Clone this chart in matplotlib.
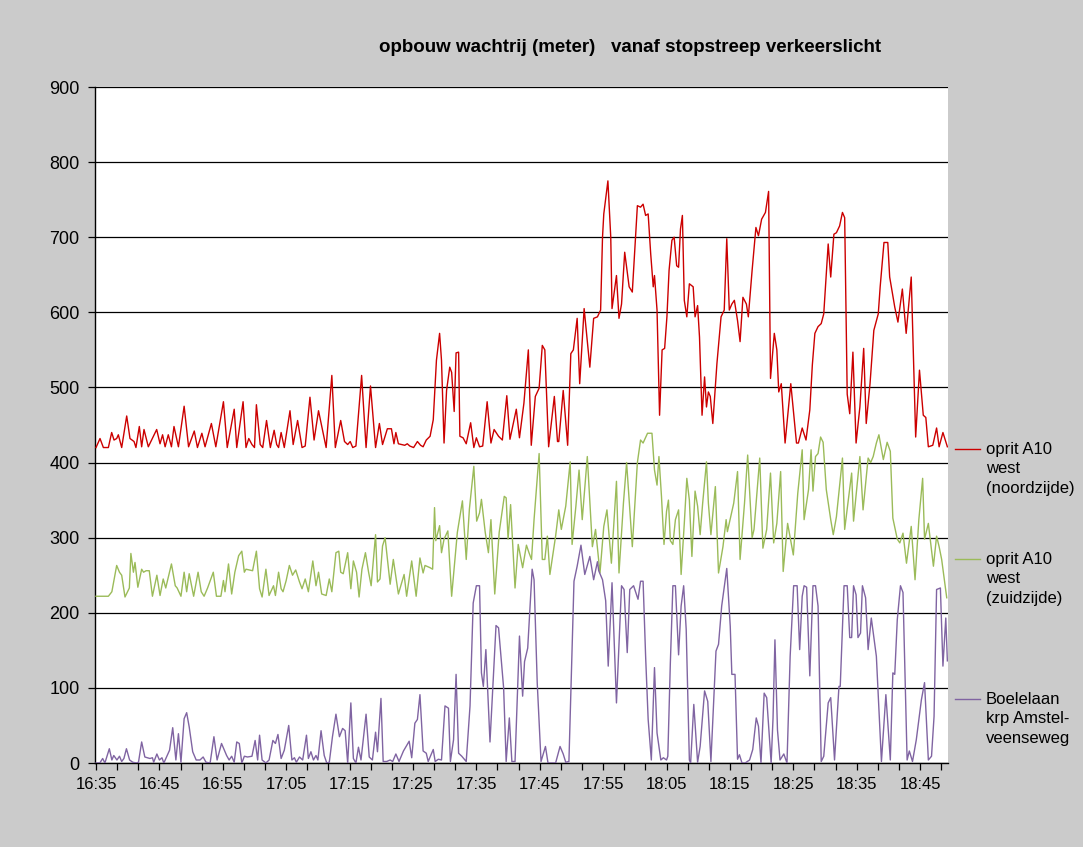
import matplotlib
matplotlib.use('Agg')
import matplotlib.pyplot as plt
from matplotlib.lines import Line2D
from matplotlib.ticker import MultipleLocator

plt.rcParams['font.family'] = ['Liberation Sans', 'DejaVu Sans']

title = "opbouw wachtrij (meter)   vanaf stopstreep verkeerslicht"
tick_labels = ["16:35", "16:45", "16:55", "17:05", "17:15", "17:25", "17:35",
               "17:45", "17:55", "18:05", "18:15", "18:25", "18:35", "18:45"]
series_names = ["oprit A10\nwest\n(noordzijde)",
                "oprit A10\nwest\n(zuidzijde)",
                "Boelelaan\nkrp Amstel-\nveenseweg"]

# time in minutes after 16:35, value in meters
red_t = [0, 0.63, 1.16, 1.95, 2.47, 2.84, 3.26, 3.52, 4.05, 4.84, 5.36, 6.0, 6.3, 6.83, 7.2, 7.57, 8.25, 9.57,
         10.1, 10.5, 10.9, 11.4, 11.9, 12.3, 13.0, 13.9, 14.6, 15.5, 16.0, 16.7, 17.2, 18.2, 18.9, 20.1, 20.7,
         21.8, 22.2, 23.2, 23.66, 24.1, 24.6, 25.0, 25.3, 25.9, 26.3, 26.9, 27.5, 28.1, 28.5, 28.8, 29.2, 29.7,
         30.6, 31.1, 31.8, 32.5, 33.0, 33.75, 34.4, 35.1, 36.3, 37.2, 37.75, 38.6, 39.2, 39.7, 40.1, 40.5, 41.0,
         41.9, 42.6, 43.3, 44.1, 44.7, 45.2, 45.96, 46.6, 47.0, 47.3, 47.7, 48.2, 48.7, 49.1, 49.5, 50.1, 50.7,
         51.2, 51.6, 52.1, 52.7, 53.2, 53.7, 54.2, 54.5, 54.9, 55.3, 55.8, 56.1, 56.5, 56.8, 57.2, 57.4, 57.9,
         58.4, 59.1, 59.6, 60.0, 60.5, 61.0, 61.7, 62.3, 62.8, 63.5, 64.1, 64.8, 65.3, 66.3, 66.8, 67.5, 68.2,
         68.66, 69.3, 69.9, 70.4, 70.8, 71.4, 72.3, 72.8, 73.0, 73.7, 74.4, 74.9, 75.3, 75.9, 76.3, 77.0, 77.9,
         78.5, 79.1, 79.6, 79.9, 80.1, 80.75, 81.2, 81.4, 82.1, 82.5, 82.9, 83.4, 84.1, 84.6, 85.4, 85.9, 86.3,
         86.7, 87.1, 87.5, 87.9, 88.1, 88.5, 88.9, 89.3, 89.7, 90.06, 90.4, 90.85, 91.2, 91.6, 91.9, 92.2, 92.5,
         92.8, 93.2, 93.6, 94.2, 94.5, 94.9, 95.2, 95.6, 96.0, 96.3, 96.6, 96.9, 97.3, 97.95, 98.6, 99.1, 99.5,
         99.9, 100.3, 100.7, 101.2, 101.6, 102.05, 102.6, 102.9, 103.5, 104.1, 104.5, 105.0, 105.6, 106.1,
         106.4, 107.0, 107.4, 107.7, 108.1, 108.7, 109.6, 110.5, 110.8, 111.4, 112.0, 112.6, 113.0, 113.4,
         113.9, 114.4, 114.8, 115.5, 115.9, 116.4, 116.8, 117.3, 117.75, 118.1, 118.5, 118.9, 119.4, 119.9,
         120.5, 121.1, 121.5, 122.1, 122.7, 123.4, 123.7, 124.3, 124.9, 125.2, 126.0, 126.5, 127.2, 127.8,
         128.6, 129.3, 129.9, 130.5, 130.9, 131.3, 132.0, 132.6, 133.0, 133.6, 134.3]
red_v = [420, 432, 420, 420, 440, 430, 432, 437, 420, 462, 432, 428, 420, 448, 421, 444, 421, 444,
         425, 437, 421, 437, 421, 448, 421, 475, 421, 442, 420, 439, 421, 452, 421, 481, 420,
         471, 420, 481, 420, 432, 424, 420, 477, 424, 420, 456, 420, 443, 424, 420, 440, 420,
         469, 424, 456, 420, 422, 487, 430, 469, 420, 516, 420, 456, 428, 424, 428, 420, 422,
         516, 420, 502, 420, 452, 424, 445, 445, 425, 440, 425, 424, 423, 425, 422, 420, 428,
         423, 421, 430, 435, 457, 536, 572, 536, 426, 496, 527, 520, 468, 546, 547, 435, 433,
         425, 453, 420, 433, 421, 422, 481, 426, 444, 435, 430, 489, 431, 471, 433, 479, 550,
         423, 488, 499, 556, 550, 421, 488, 428, 428, 496, 423, 545, 550, 592, 505, 605, 527,
         592, 594, 603, 700, 731, 775, 700, 605, 649, 592, 611, 680, 634, 627, 742, 740, 744,
         729, 731, 678, 634, 649, 603, 463, 550, 552, 594, 656, 696, 700, 662, 660, 711, 729,
         616, 594, 638, 634, 594, 609, 567, 463, 514, 474, 494, 488, 452, 532, 594, 603, 698,
         603, 611, 616, 589, 561, 620, 611, 594, 656, 713, 702, 724, 733, 761,
         512, 572, 550, 494, 505, 426, 505, 426, 426, 446, 430, 470, 530, 572,
         581, 585, 598, 691, 647, 704, 706, 715, 733, 726, 491, 465, 547, 426,
         474, 552, 452, 505, 576, 598, 634, 693, 693, 647, 607, 587, 631, 572,
         647, 434, 523, 463, 460, 421, 423, 446, 421, 440, 421]

green_t = [0, 1.95, 2.5, 3.26, 3.7, 4.05, 4.57, 5.26, 5.5, 5.9, 6.15, 6.6, 7.2, 7.5, 7.9, 8.4, 8.9, 9.6,
           10.1, 10.6, 11.0, 11.9, 12.5, 12.8, 13.4, 13.9, 14.3, 14.7, 15.4, 16.1, 16.6, 17.05, 17.6, 18.5,
           19.0, 19.7, 20.1, 20.35, 20.9, 21.4, 21.9, 22.5, 23.0, 23.4, 23.66, 24.2, 24.7, 25.3, 25.8, 26.2,
           26.8, 27.3, 28.0, 28.3, 28.8, 29.2, 29.5, 30.0, 30.5, 31.0, 31.5, 32.1, 32.5, 33.0, 33.5, 34.2,
           34.7, 35.1, 35.6, 36.3, 36.8, 37.2, 37.85, 38.3, 38.6, 39.0, 39.7, 40.2, 40.6, 41.1, 41.5, 41.95,
           42.5, 43.0, 43.4, 44.1, 44.4, 44.8, 45.2, 45.6, 46.4, 46.9, 47.7, 48.6, 49.0, 49.8, 50.5, 51.1,
           51.6, 51.9, 52.7, 53.1, 53.4, 53.6, 54.2, 54.5, 54.9, 55.5, 56.1, 57.0, 57.8, 58.4, 58.9, 59.6,
           60.05, 60.5, 60.8, 61.4, 61.9, 62.3, 62.9, 63.6, 64.4, 64.7, 65.0, 65.4, 66.1, 66.6, 67.3, 67.9,
           68.3, 68.7, 69.1, 69.9, 70.4, 70.8, 71.2, 71.6, 72.5, 73.0, 73.4, 74.1, 74.8, 75.1, 75.7, 76.2,
           76.7, 77.5, 78.3, 78.8, 79.5, 80.1, 80.6, 81.3, 82.1, 82.5, 83.2, 83.7, 84.6, 85.4, 85.9, 86.3,
           87.0, 87.7, 88.1, 88.5, 88.8, 89.2, 89.6, 90.0, 90.3, 90.6, 91.0, 91.4, 91.9, 92.3, 92.8, 93.2,
           93.6, 94.0, 94.5, 94.9, 95.3, 95.7, 96.3, 96.6, 97.0, 97.7, 98.2, 98.9, 99.4, 99.6, 100.6, 101.2,
           101.6, 102.3, 102.8, 103.5, 103.8, 104.7, 105.2, 105.8, 106.4, 106.9, 107.4, 108.0, 108.4, 109.1,
           110.0, 110.7, 111.4, 111.7, 112.4, 112.8, 113.1, 113.5, 113.9, 114.3, 114.7, 115.2, 115.9, 116.3,
           116.8, 117.75, 118.1, 119.2, 119.5, 120.5, 121.0, 121.8, 122.2, 122.6, 123.1, 123.5, 124.2, 124.8,
           125.3, 125.7, 126.4, 126.8, 127.3, 127.85, 128.6, 129.2, 129.8, 130.4, 130.7, 131.3, 132.1, 132.6,
           133.0, 133.4, 134.2]
green_v = [222, 222, 228, 263, 254, 250, 221, 233, 279, 254, 267, 234, 258, 254, 256, 256, 222, 250,
           223, 245, 233, 265, 236, 233, 222, 254, 228, 252, 222, 254, 228, 222, 233, 254,
           222, 222, 243, 228, 265, 225, 254, 276, 282, 254, 258, 257, 256, 282, 232, 221,
           258, 223, 236, 223, 254, 232, 228, 243, 263, 250, 257, 241, 232, 245, 228, 269,
           236, 254, 225, 223, 245, 228, 280, 282, 254, 252, 280, 232, 269, 254, 221, 258,
           280, 254, 236, 304, 241, 245, 289, 300, 238, 271, 225, 251, 222, 269, 222, 273,
           253, 263, 260, 258, 340, 296, 316, 280, 298, 309, 222, 307, 349, 271, 338, 395,
           322, 333, 351, 307, 280, 324, 225, 307, 355, 353, 298, 344, 233, 291, 260, 290,
           280, 271, 324, 412, 271, 271, 302, 251, 302, 337, 311, 342, 401, 291, 342, 390,
           324, 408, 288, 311, 253, 315, 337, 266, 375, 253, 346, 400, 288, 400, 430, 426,
           439, 439, 390, 370, 408, 355, 291, 335, 350, 296, 291, 324, 337, 251, 319, 379,
           350, 275, 362, 342, 304, 346, 401, 346, 304, 368, 253, 288, 324, 308, 346, 388,
           271, 346, 410, 300, 311, 406, 286, 311, 386, 293, 319, 388, 255, 319,
           277, 359, 417, 324, 364, 417, 362, 408, 412, 434, 427, 364, 324, 304,
           328, 406, 311, 386, 322, 408, 337, 406, 400, 408, 426, 437, 404, 427,
           415, 326, 298, 293, 306, 266, 315, 244, 324, 379, 298, 319, 262, 302,
           288, 271, 220]

purple_t = [0, 0.6, 1.05, 1.4, 2.1, 2.5, 2.8, 3.3, 3.7, 4.05, 4.4, 4.8, 5.3, 5.8, 6.4, 6.7, 7.2, 7.7, 8.5,
            8.9, 9.1, 9.6, 10.0, 10.4, 10.7, 11.6, 12.1, 12.6, 13.0, 13.4, 13.9, 14.3, 14.7, 15.25, 15.8,
            16.4, 16.9, 17.35, 18.0, 18.6, 19.1, 19.8, 20.2, 20.6, 21.0, 21.4, 21.8, 22.2, 22.6, 23.0, 23.4,
            23.9, 24.6, 25.1, 25.5, 25.8, 26.2, 26.8, 27.3, 27.9, 28.3, 28.7, 29.2, 29.7, 30.4, 30.9, 31.3,
            31.6, 32.1, 32.6, 33.2, 33.5, 33.9, 34.3, 34.7, 35.0, 35.5, 36.0, 36.4, 36.8, 37.3, 37.85, 38.4,
            38.9, 39.3, 39.7, 40.2, 40.6, 41.0, 41.4, 41.8, 42.6, 43.1, 43.6, 44.1, 44.4, 44.95, 45.3, 45.85,
            46.4, 46.8, 47.3, 47.8, 48.5, 49.4, 49.8, 50.3, 50.7, 51.1, 51.6, 52.1, 52.4, 53.2, 53.5, 54.0,
            54.5, 55.05, 55.6, 55.9, 56.4, 56.8, 57.2, 57.7, 58.4, 59.0, 59.5, 60.0, 60.5, 60.8, 61.1, 61.5,
            62.15, 63.1, 63.5, 64.3, 64.7, 65.2, 65.6, 66.1, 66.8, 67.3, 67.6, 68.1, 68.8, 69.1, 69.6, 70.2,
            70.9, 71.3, 72.5, 73.2, 73.7, 74.1, 74.6, 75.4, 75.9, 76.5, 77.1, 77.9, 78.5, 79.1, 79.3, 79.9,
            80.4, 80.8, 81.4, 82.1, 82.9, 83.3, 83.8, 84.2, 84.8, 85.5, 85.9, 86.3, 86.7, 87.1, 87.6, 88.1,
            88.5, 89.1, 89.5, 90.0, 90.2, 90.6, 91.0, 91.4, 91.9, 92.3, 92.7, 93.1, 93.6, 93.8, 94.3, 94.9,
            95.3, 96.0, 96.5, 97.0, 97.4, 97.8, 98.2, 98.7, 99.5, 100.05, 100.3, 100.8, 101.2, 101.5, 101.9,
            102.4, 103.1, 103.6, 104.15, 104.5, 104.9, 105.4, 105.8, 106.5, 106.8, 107.1, 107.5, 107.9,
            108.5, 109.0, 109.5, 110.05, 110.6, 111.0, 111.4, 111.7, 112.1, 112.6, 113.1, 113.5, 113.9,
            114.4, 114.8, 115.5, 115.9, 116.5, 117.2, 117.4, 118.0, 118.5, 118.9, 119.2, 119.5, 119.9,
            120.2, 120.6, 120.9, 121.4, 121.8, 122.3, 123.1, 123.9, 124.6, 125.3, 125.7, 126.0, 126.4,
            126.9, 127.3, 127.95, 128.3, 128.8, 129.4, 130.2, 130.7, 131.3, 131.8, 132.2, 132.6, 133.2,
            133.6, 134.05, 134.3]
purple_v = [0, 0, 6, 0, 19, 4, 10, 4, 9, 2, 6, 19, 4, 1, 0, 1, 28, 8, 6,
            7, 1, 12, 4, 7, 0, 17, 47, 4, 39, 1, 59, 67, 48, 15, 4,
            4, 8, 1, 0, 35, 4, 26, 18, 10, 4, 9, 1, 28, 26, 0, 9,
            8, 9, 30, 4, 37, 4, 0, 4, 30, 26, 38, 6, 17, 50, 4, 7,
            1, 8, 4, 37, 6, 15, 4, 10, 4, 43, 10, 0, 1, 35, 65, 35,
            46, 43, 0, 80, 6, 0, 21, 4, 65, 8, 4, 41, 15, 86, 2, 2,
            4, 2, 12, 2, 16, 29, 7, 53, 58, 91, 16, 13, 2, 18, 2, 5,
            4, 76, 73, 2, 31, 118, 13, 9, 2, 76, 213, 236, 236, 120, 102, 151,
            28, 183, 180, 100, 2, 60, 2, 2, 169, 89, 135, 153, 258, 244, 107, 2,
            22, 0, 0, 22, 12, 1, 2, 242, 262, 290, 251, 275, 244, 268, 256, 244,
            216, 129, 240, 80, 236, 231, 147, 231, 236, 218, 242, 242, 142, 58, 4, 127,
            40, 4, 7, 4, 9, 133, 236, 236, 144, 209, 236, 178, 4, 0, 78, 1,
            22, 96, 82, 2, 76, 149, 158, 209, 259, 182, 118, 118, 5, 11, 0,
            0, 4, 18, 60, 49, 0, 93, 87, 0, 60, 164, 44, 4,
            12, 0, 142, 236, 236, 151, 222, 236, 234, 116, 236, 236, 209,
            2, 9, 80, 87, 4, 102, 102, 236, 236, 167, 167, 236, 224,
            167, 173, 236, 220, 151, 193, 142, 2, 91, 4, 120, 118, 191,
            236, 227, 4, 16, 2, 31, 84, 107, 4, 9, 62, 231, 233,
            129, 193, 136]

colors = ['#CC0000', '#9BBB59', '#8064A2']

W, H = 1083, 847
fig = plt.figure(figsize=(W / 100, H / 100), dpi=100, facecolor='#CBCBCB')
ax = fig.add_axes([95 / W, 1 - 763 / H, (948 - 95) / W, (763 - 87) / H])
ax.set_facecolor('white')

ax.plot(red_t, red_v, color=colors[0], lw=1.0, zorder=3)
ax.plot(green_t, green_v, color=colors[1], lw=1.0, zorder=4)
ax.plot(purple_t, purple_v, color=colors[2], lw=1.0, zorder=5)

ax.set_xlim(-0.16, 134.4)
ax.set_ylim(0, 900)
ax.set_yticks(range(0, 901, 100))
ax.yaxis.grid(True, color='black', lw=0.9, zorder=1)
ax.set_axisbelow(True)
ax.set_xticks([i * 10 for i in range(len(tick_labels))])
ax.set_xticklabels(tick_labels)
ax.xaxis.set_minor_locator(MultipleLocator(10 / 3))
ax.tick_params(axis='y', labelsize=13, length=5, width=0.9, pad=6, colors='black')
ax.tick_params(axis='x', which='major', labelsize=12, length=5, width=0.9, pad=5)
ax.tick_params(axis='x', which='minor', length=5, width=0.9)
for s in ['top', 'right']:
    ax.spines[s].set_visible(False)
for s in ['left', 'bottom']:
    ax.spines[s].set_color('black')
    ax.spines[s].set_linewidth(1.0)

fig.text(630 / W, 1 - 47 / H, title, ha='center', va='center', fontsize=13.5, fontweight='bold')

# legend
legend_y = [449, 559, 699]
for name, col, y in zip(series_names, colors, legend_y):
    fig.add_artist(Line2D([955 / W, 980 / W], [1 - y / H, 1 - y / H], transform=fig.transFigure,
                          color=col, lw=1.0))
    for k, line in enumerate(name.split('\n')):
        fig.text(986 / W, 1 - (y + k * 19.5) / H, line, ha='left', va='center', fontsize=12)

fig.savefig('out.png', dpi=100, facecolor=fig.get_facecolor())
